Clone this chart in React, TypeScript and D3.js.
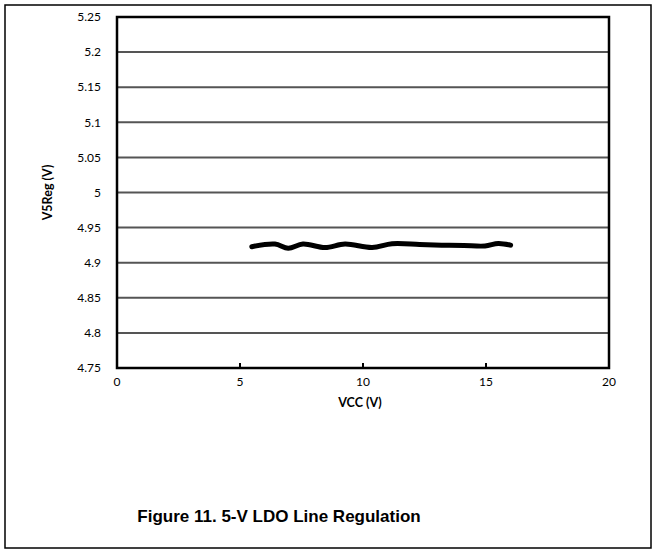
import React from "react";
import * as d3 from "d3";

const vcc = [5.48, 6.42, 6.96, 7.56, 8.46, 9.27, 10.37, 11.18, 12.3, 13.2, 14.1, 14.96, 15.5, 16.0];
const v5reg = [4.9228, 4.9266, 4.9205, 4.9266, 4.9216, 4.9266, 4.9216, 4.927, 4.926, 4.925, 4.9245, 4.9238, 4.9274, 4.925];
const yTicks = [4.75, 4.8, 4.85, 4.9, 4.95, 5, 5.05, 5.1, 5.15, 5.2, 5.25];
const xTicks = [0, 5, 10, 15, 20];

const W = 653, H = 551;
const L = 117, T = 17, R = 609, B = 368;

export default function App() {
  const x = d3.scaleLinear().domain([0, 20]).range([L, R]);
  const y = d3.scaleLinear().domain([4.75, 5.25]).range([B, T]);
  const pts = vcc.map((v, i) => [v, v5reg[i]] as [number, number]);
  const line = d3.line<[number, number]>().x(d => x(d[0])).y(d => y(d[1])).curve(d3.curveCatmullRom.alpha(0.5));
  const font = "Lato, 'Open Sans', sans-serif";
  return (
    <svg width={W} height={H} style={{ position: "absolute", left: 0, top: 0, background: "#fff" }}>
      <rect x={5} y={5} width={646} height={543} fill="none" stroke="#000" strokeWidth={1.5} />
      {yTicks.map(t => (
        <line key={"g" + t} x1={L} x2={R} y1={y(t)} y2={y(t)} stroke="#555" strokeWidth={2} />
      ))}
      {xTicks.slice(1, -1).map(t => (
        <line key={"xt" + t} x1={x(t)} x2={x(t)} y1={B} y2={B - 5} stroke="#000" strokeWidth={2} />
      ))}
      <rect x={L} y={T} width={R - L} height={B - T} fill="none" stroke="#000" strokeWidth={2.5} />
      <path d={line(pts) || ""} fill="none" stroke="#000" strokeWidth={5} strokeLinecap="round" strokeLinejoin="round" />
      {yTicks.map(t => (
        <text key={"yl" + t} x={101} y={y(t)} dy="0.35em" textAnchor="end" fontFamily={font} fontSize={12} fill="#000">
          {d3.format("")(t)}
        </text>
      ))}
      {xTicks.map(t => (
        <text key={"xl" + t} x={x(t)} y={382} dy="0.35em" textAnchor="middle" fontFamily={font} fontSize={12} fill="#000">
          {t}
        </text>
      ))}
      <text x={360} y={403} dy="0.35em" textAnchor="middle" fontFamily={font} fontWeight="bold" fontSize={12.5} fill="#000">
        VCC (V)
      </text>
      <text transform={`translate(48,${(T + B) / 2}) rotate(-90)`} textAnchor="middle" dy="0.35em" fontFamily={font} fontWeight="bold" fontSize={12.5} fill="#000">
        V5Reg (V)
      </text>
      <text x={279} y={516} dy="0.35em" textAnchor="middle" fontFamily="'Liberation Sans', Arial, sans-serif" fontWeight="bold" fontSize={17} fill="#000">
        Figure 11. 5-V LDO Line Regulation
      </text>
    </svg>
  );
}
